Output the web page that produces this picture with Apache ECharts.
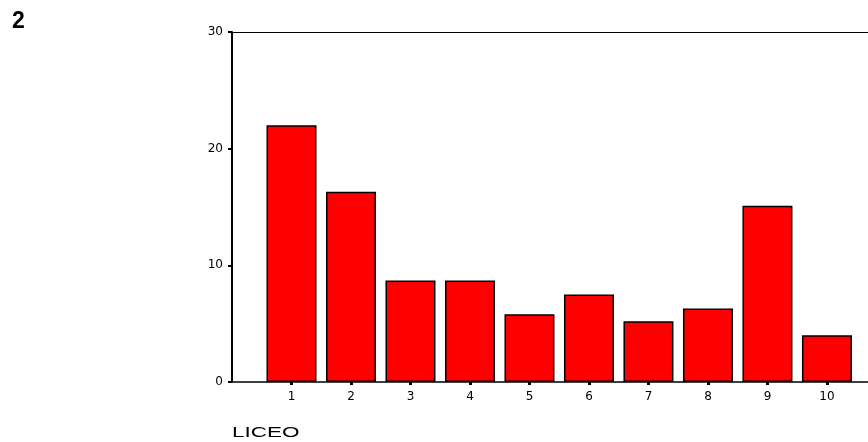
<!DOCTYPE html>
<html>
<head>
<meta charset="utf-8">
<script src="https://cdn.jsdelivr.net/npm/echarts@6/dist/echarts.min.js"></script>
<style>
html,body{margin:0;padding:0;background:#fff;}
#chart{width:868px;height:442px;}
</style>
</head>
<body>
<div id="chart"></div>
<script>
const categories = [1, 2, 3, 4, 5, 6, 7, 8, 9, 10];
const values = [22.0, 16.3, 8.7, 8.7, 5.8, 7.5, 5.2, 6.3, 15.1, 4.0];
const yTicks = [0, 10, 20, 30];
const panelLabel = '2';
const xTitle = 'LICEO';

const chart = echarts.init(document.getElementById('chart'));
const font = 'Liberation Sans, Arial, sans-serif';
const axisFont = 'DejaVu Sans, sans-serif';
chart.setOption({
  animation: false,
  backgroundColor: '#fff',
  graphic: [
    { type: 'text', left: 12, top: 10, style: { text: panelLabel, font: 'bold 23px ' + font, fill: '#000' } },
    { type: 'text', x: 232, y: 425, scaleX: 1.5, style: { text: xTitle, font: '15px ' + font, fill: '#000' } }
  ],
  grid: { left: 232, top: 32, right: 0, bottom: 60, containLabel: false },
  xAxis: [{
    type: 'value', min: 0, max: 10.69,
    axisLine: { show: true, lineStyle: { color: '#000', width: 1.5 } },
    axisTick: { show: true, length: 3, lineStyle: { color: '#000', width: 3 },
      customValues: categories },
    axisLabel: { color: '#000', fontSize: 12, fontFamily: axisFont, margin: 9,
      customValues: categories },
    splitLine: { show: false }
  }, {
    type: 'value', position: 'top', min: 0, max: 10.69,
    axisLine: { show: true, onZero: false, lineStyle: { color: '#000', width: 1 } },
    axisTick: { show: false }, axisLabel: { show: false }, splitLine: { show: false }
  }],
  yAxis: {
    type: 'value', min: 0, max: 30, interval: 10,
    axisLine: { show: true, lineStyle: { color: '#000', width: 2 } },
    axisTick: { show: true, length: 4, lineStyle: { color: '#000', width: 2 }, customValues: yTicks },
    axisLabel: { color: '#000', fontSize: 12, fontFamily: axisFont, margin: 9, customValues: yTicks },
    splitLine: { show: false }
  },
  series: [{
    type: 'bar',
    barWidth: 50,
    data: categories.map((c, i) => [c, values[i]]),
    itemStyle: { color: '#ff0000', borderColor: '#000', borderWidth: 1.5 }
  }]
});
</script>
</body>
</html>
